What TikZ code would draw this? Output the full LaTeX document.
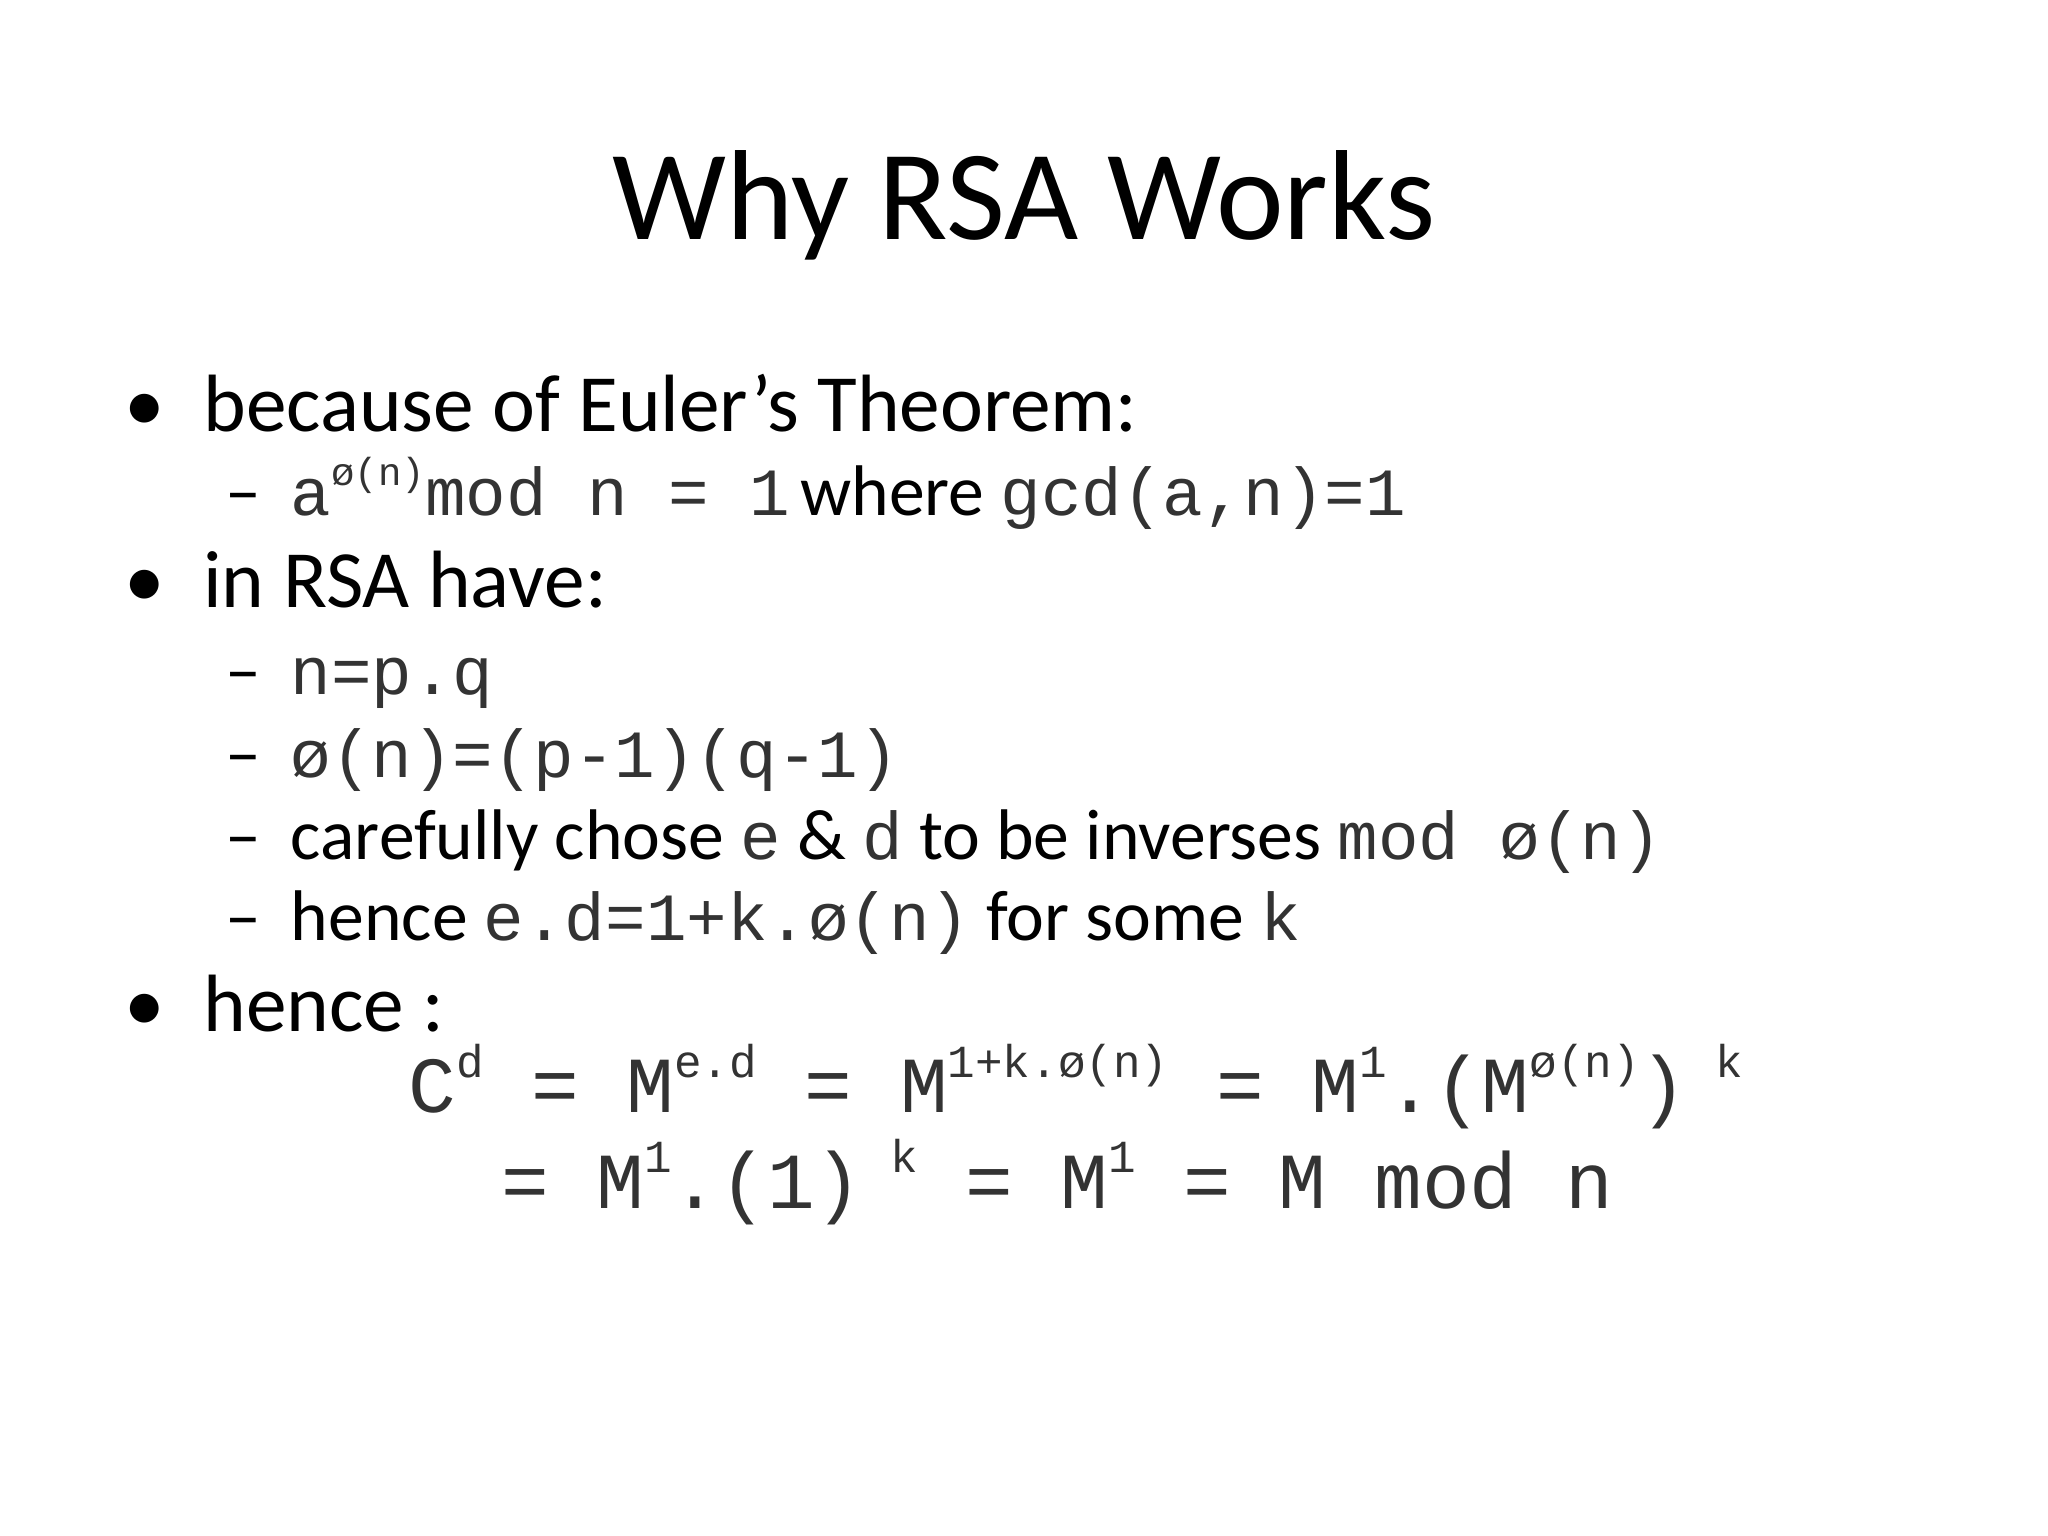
\documentclass[tikz,border=0pt]{standalone}
\usepackage{fontspec}
\setmainfont{Carlito}
\newfontfamily\cmono{Liberation Mono}
\definecolor{mg}{HTML}{333333}
\newcommand{\tsz}{\fontsize{27.9pt}{32pt}\selectfont}
\newcommand{\bsz}{\fontsize{17.7pt}{20pt}\selectfont}
\newcommand{\ssz}{\fontsize{15.6pt}{18pt}\selectfont}
\newcommand{\ms}[1]{{\cmono\color{mg}\fontsize{14.7pt}{17pt}\selectfont #1}}
\newcommand{\msup}[1]{\raisebox{0.45em}{\cmono\fontsize{8.5pt}{10pt}\selectfont #1}}
\newcommand{\esup}[1]{\raisebox{0.45em}{\cmono\fontsize{10pt}{12pt}\selectfont #1}}
\begin{document}
\begin{tikzpicture}[x=0.01cm,y=-0.01cm,every node/.style={inner sep=0,anchor=base west}]
\useasboundingbox (0,0) rectangle (1568,1176);
\node (title) at (784,183) [anchor=base] {\tsz Why RSA Works};
\node (b1) at (95,330) {\bsz •};
\node (t1) at (155,330) {\bsz because of Euler's Theorem:};
\node (d1) at (172,395) {\ssz –};
\node (s1) at (222,395) {\ms{a\msup{ø(n)}mod n = 1} \ssz where \ms{gcd(a,n)=1}};
\node (b2) at (95,465) {\bsz •};
\node (t2) at (155,465) {\bsz in RSA have:};
\node (d2) at (172,532) {\ssz –};
\node (s2) at (222,532) {\ms{n=p.q}};
\node (d3) at (172,595) {\ssz –};
\node (s3) at (222,595) {\ms{ø(n)=(p-1)(q-1)}};
\node (d4) at (172,658) {\ssz –};
\node (s4) at (222,658) {\ssz carefully chose \ms{e} \& \ms{d} to be inverses \ms{mod ø(n)}};
\node (d5) at (172,720) {\ssz –};
\node (s5) at (222,720) {\ssz hence \ms{e.d=1+k.ø(n)} for some \ms{k}};
\node (b3) at (95,790) {\bsz •};
\node (t3) at (155,790) {\bsz hence :};
\node (e1) at (312,852) {\cmono\color{mg}\fontsize{17.3pt}{20pt}\selectfont C\esup{d} = M\esup{e.d} = M\esup{1+k.ø(n)} = M\esup{1}.(M\esup{ø(n)})\esup{ k}};
\node (e2) at (383,925) {\cmono\color{mg}\fontsize{17.3pt}{20pt}\selectfont = M\esup{1}.(1)\esup{ k} = M\esup{1} = M mod n};
\end{tikzpicture}
\end{document}
